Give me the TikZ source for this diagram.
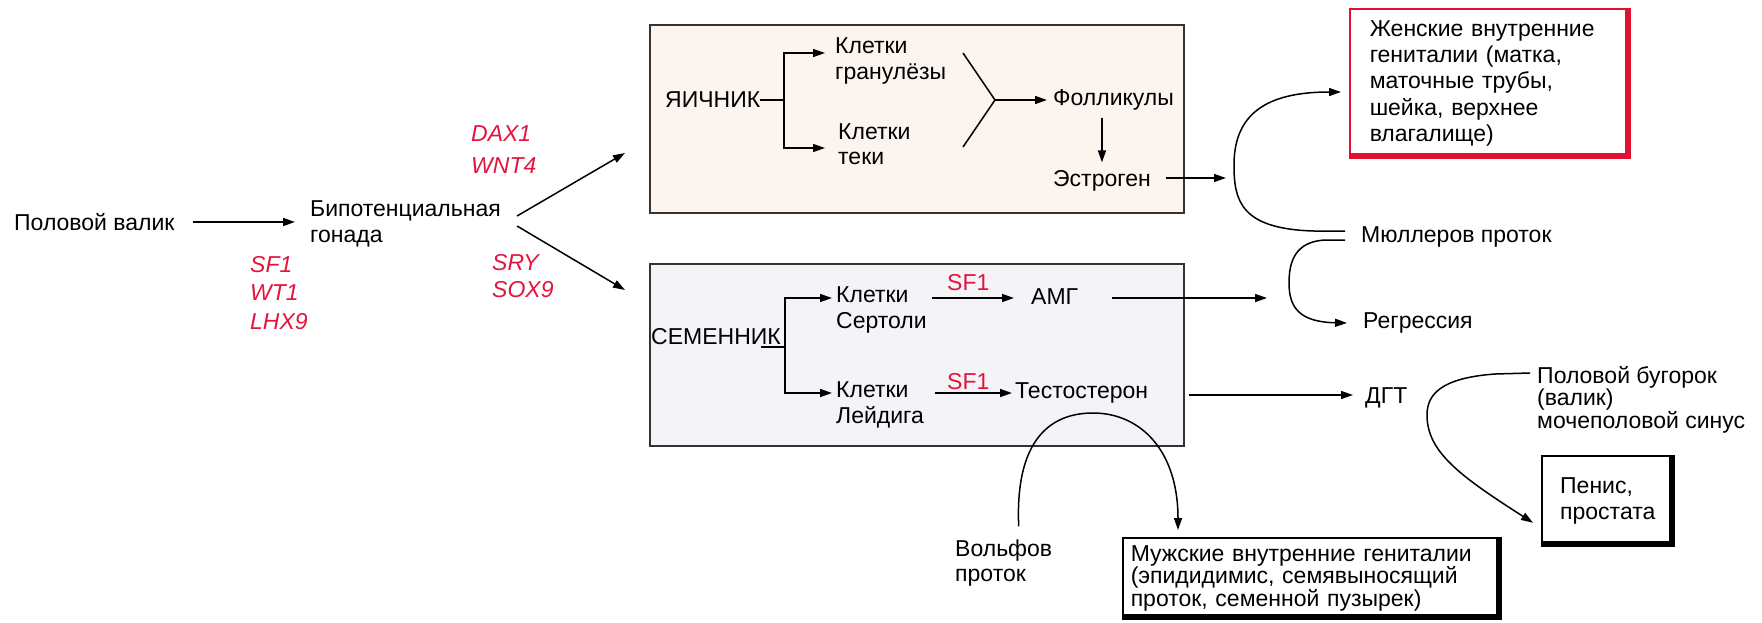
\documentclass[tikz,border=0pt]{standalone}
\usepackage{fontspec}
\setmainfont{Liberation Sans}
\usetikzlibrary{arrows.meta}
\definecolor{genered}{HTML}{E2143C}
\definecolor{ovfill}{HTML}{FCF4EF}
\definecolor{tefill}{HTML}{F4F4F8}
\definecolor{femred}{HTML}{E0102F}
\definecolor{boxgray}{HTML}{333333}
\begin{document}
\begin{tikzpicture}[x=1pt,y=-1pt,
  txt/.style={font=\fontsize{23}{25.5}\selectfont, inner sep=0pt, anchor=west, align=left},
  gene/.style={txt, text=genered, font=\fontsize{23}{25.5}\selectfont\itshape},
  arr/.style={-{Triangle[length=12pt,width=8pt]}, line width=1.5pt},
  ln/.style={line width=1.5pt},
  bigbox/.style={draw=boxgray, line width=1.5pt, anchor=north west, inner sep=0pt, minimum width=534pt},
  shadowbox/.style={draw=black, line width=1.5pt, anchor=north west, inner sep=0pt, align=left, font=\fontsize{23}{22.5}\selectfont}]
\useasboundingbox (0,0) rectangle (1762,622);

% left part
\node[txt] (valik) at (14,222) {Половой валик};
\node[txt] (bipot) at (310,224) {Бипотенциальная\\гонада};
\draw[arr] ([xshift=18pt]valik.east) -- ([xshift=-15pt,yshift=2pt]bipot.west);
\node[gene] (sf1) at (250,265) {SF1};
\node[gene] (wt1) at (250,293) {WT1};
\node[gene] (lhx9) at (250,322) {LHX9};
\node[gene] (dax1) at (471,134) {DAX1};
\node[gene] (wnt4) at (471,166) {WNT4};
\node[gene] (sry) at (492,263) {SRY};
\node[gene] (sox9) at (492,290) {SOX9};

% boxes
\node[bigbox, fill=ovfill, minimum height=188pt] (ovbox) at (649,24) {};
\node[bigbox, fill=tefill, minimum height=182pt] (tebox) at (649,263) {};
\coordinate (u2) at (625,153);
\coordinate (l2) at (625,290);
\draw[arr] ([xshift=16pt,yshift=8pt]bipot.east) -- (u2);
\draw[arr] ([xshift=16pt,yshift=-2pt]bipot.east) -- (l2);

% ovary
\node[txt] (yaich) at (665,100) {ЯИЧНИК};
\coordinate (yj) at (784,100);
\node[txt] (gran) at (835,61) {Клетки\\гранулёзы};
\node[txt] (teki) at (838,144) {Клетки\\теки};
\draw[ln] (yaich.east) -- (yj);
\draw[arr] (yj) |- ([xshift=-10pt,yshift=8pt]gran.west);
\draw[arr] (yj) |- ([xshift=-13pt,yshift=-4pt]teki.west);
\coordinate (fk) at (995,100);
\coordinate (fka) at (963,53);
\coordinate (fkb) at (963,147);
\draw[ln] (fka) -- (fk) -- (fkb);
\node[txt] (folli) at (1053,100) {Фолликулы};
\draw[arr] (fk) -- ([xshift=-6pt]folli.west);
\node[txt] (estr) at (1053,181) {Эстроген};
\draw[arr] ([yshift=-7pt]folli.south -| estr.north) -- ([yshift=8pt]estr.north);
\coordinate (estrtip) at (1226,178);
\draw[arr] ([xshift=15pt,yshift=3pt]estr.east) -- (estrtip);

% female genitalia
\node[draw=femred, line width=1.5pt, anchor=north west, minimum width=278pt, minimum height=149pt,
      text width=240pt, inner xsep=20pt, inner ysep=0pt, align=left,
      font=\fontsize{23}{26.3}\selectfont] (fem) at (1349,8)
      {Женские внутренние\\гениталии (матка,\\маточные трубы,\\шейка, верхнее\\влагалище)};
\draw[femred, line width=6pt] ([xshift=-3pt]fem.north east) -- ([xshift=-3pt,yshift=3pt]fem.south east) -- ([yshift=3pt]fem.south west);

% Mueller
\node[txt] (mull) at (1361,237) {Мюллеров проток};
\node[txt] (regr) at (1363,323) {Регрессия};
\coordinate (femin) at (1341,92);
\draw[arr] ([xshift=-16pt,yshift=6pt]mull.west) -- ++(-31,0)
   .. controls (1240,229) and (1234,200) .. (1234,165)
   .. controls (1234,115) and (1265,92) .. (femin);
\draw[arr] ([xshift=-16pt,yshift=-3pt]mull.west) -- ++(-19,0)
   .. controls (1295,241) and (1289,262) .. (1289,283)
   .. controls (1289,308) and (1300,322) .. ([xshift=-16pt]regr.west);

% testis
\node[txt] (semen) at (651,337) {СЕМЕННИК};
\coordinate (ul1) at (761,347);
\coordinate (sj) at (785,347);
\draw[ln] (ul1) -- (sj);
\node[txt] (sert) at (836,310) {Клетки\\Сертоли};
\node[txt] (leyd) at (836,405) {Клетки\\Лейдига};
\draw[arr] (sj) |- ([xshift=-4pt,yshift=12pt]sert.west);
\draw[arr] (sj) |- ([xshift=-4pt,yshift=12pt]leyd.west);
\node[txt] (amg) at (1031,297) {АМГ};
\node[txt] (test) at (1015,393) {Тестостерон};
\node[txt, text=genered] (sfa) at (947,283) {SF1};
\node[txt, text=genered] (sfb) at (947,382) {SF1};
\draw[arr] ([xshift=5pt,yshift=12pt]sert.east) -- ([xshift=-17pt,yshift=-1pt]amg.west);
\draw[arr] ([xshift=11pt,yshift=12pt]leyd.east) -- ([xshift=-3pt]test.west);
\coordinate (amgtip) at (1267,298);
\draw[arr] ([xshift=34pt,yshift=-1pt]amg.east) -- (amgtip);
\node[txt] (dgt) at (1365,398) {ДГТ};
\draw[arr] ([xshift=41pt,yshift=-2pt]test.east) -- ([xshift=-12pt,yshift=3pt]dgt.west);

% external
\node[txt, font=\fontsize{23}{20}\selectfont] (tub) at (1537,400) {Половой бугорок\\(валик)\\мочеполовой синус};
\node[shadowbox, minimum width=132pt, minimum height=90pt, font=\fontsize{23}{25.5}\selectfont] (penis) at (1541,455) {Пенис,\\простата};
\draw[line width=6pt] ([xshift=-3pt]penis.north east) -- ([xshift=-3pt,yshift=3pt]penis.south east) -- ([yshift=3pt]penis.south west);
\draw[arr] ([xshift=-7pt,yshift=27pt]tub.west) -- ++(-35,1)
   .. controls (1440,378) and (1427,395) .. (1427,415)
   .. controls (1427,452) and (1460,476) .. ([xshift=-8pt,yshift=-22pt]penis.west);

% male internal
\node[shadowbox, minimum width=378pt, minimum height=81pt, text width=362pt, inner xsep=8pt] (male) at (1122,537)
   {Мужские внутренние гениталии\\(эпидидимис, семявыносящий\\проток, семенной пузырек)};
\draw[line width=6pt] ([xshift=-3pt]male.north east) -- ([xshift=-3pt,yshift=3pt]male.south east) -- ([yshift=3pt]male.south west);
\node[txt] (volf) at (955,563) {Вольфов\\проток};
\draw[arr] ([xshift=15pt,yshift=13pt]volf.north)
   .. controls (1015,440) and (1050,413) .. (1093,413)
   .. controls (1140,413) and (1178,450) .. ([xshift=56pt,yshift=7pt]male.north west);
\end{tikzpicture}
\end{document}
